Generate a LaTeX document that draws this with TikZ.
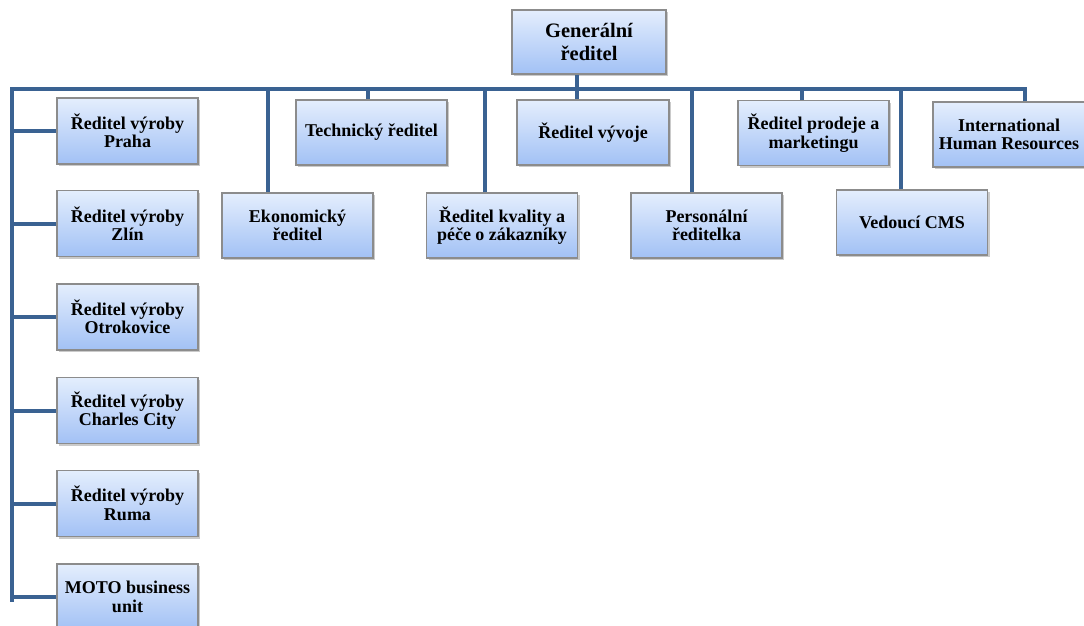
\documentclass[tikz,border=0pt]{standalone}
\usepackage{fontspec}
\setmainfont{Liberation Serif}
\usetikzlibrary{shadows}
\definecolor{conncol}{RGB}{58,98,146}
\definecolor{boxtop}{RGB}{228,238,253}
\definecolor{boxbot}{RGB}{162,193,245}
\definecolor{boxline}{RGB}{140,140,140}
\tikzset{
  orgbox/.style={draw=boxline, line width=1.2pt, top color=boxtop, bottom color=boxbot,
    minimum width=151pt, minimum height=65pt, align=center, inner sep=2pt,
    font=\fontsize{18pt}{18.5pt}\selectfont\bfseries,
    drop shadow={shadow xshift=2pt, shadow yshift=-2pt, opacity=0.35, fill=black!60}},
  leftbox/.style={orgbox, minimum width=141pt, minimum height=66pt},
  conn/.style={draw=conncol, line width=4pt},
}
\begin{document}
\begin{tikzpicture}[x=1pt,y=-1pt]
\useasboundingbox (0,0) rectangle (1084,626);
% nodes
\node[orgbox, minimum width=154pt, minimum height=64pt, font=\fontsize{20.5pt}{23pt}\selectfont\bfseries] (gen) at (589,42) {Generální\\ředitel};
\node[leftbox] (praha) at (127.5,131) {Ředitel výroby\\Praha};
\node[leftbox] (zlin) at (127.5,223.5) {Ředitel výroby\\Zlín};
\node[leftbox] (otro) at (127.5,317) {Ředitel výroby\\Otrokovice};
\node[leftbox] (charles) at (127.5,410.5) {Ředitel výroby\\Charles City};
\node[leftbox] (ruma) at (127.5,503.5) {Ředitel výroby\\Ruma};
\node[leftbox] (moto) at (127.5,597) {MOTO business\\unit};
\node[orgbox] (eko) at (297.5,225.5) {Ekonomický\\ředitel};
\node[orgbox] (tech) at (371.5,132.5) {Technický ředitel};
\node[orgbox] (kval) at (502,225.5) {Ředitel kvality a\\péče o zákazníky};
\node[orgbox, minimum width=152pt] (vyvoj) at (593,132.5) {Ředitel vývoje};
\node[orgbox] (pers) at (706.5,225.5) {Personální\\ředitelka};
\node[orgbox] (prodej) at (813.5,133) {Ředitel prodeje a\\marketingu};
\node[orgbox] (cms) at (912,222.5) {Vedoucí CMS};
\node[orgbox, minimum width=152pt] (ihr) at (1009,134.5) {International\\Human Resources};
% bus coordinates
\coordinate (busL) at (12,89);
\coordinate (busR) at (1025,89);
\coordinate (busB) at (12,600);
% connectors
\draw[conn] ([xshift=-12pt]gen.south) -- ([xshift=-12pt]gen.south |- busL);
\draw[conn, line cap=rect] (busB) -- (busL) -- (busR);
\draw[conn] ([xshift=16pt]ihr.north) -- ([xshift=16pt]ihr.north |- busR);
\foreach \n in {praha,zlin,otro,charles,ruma,moto}{
  \draw[conn] (\n.west) -- (\n.west -| busL);
}
\draw[conn] ([xshift=-29.5pt]eko.north) -- ([xshift=-29.5pt]eko.north |- busL);
\draw[conn] ([xshift=-3.5pt]tech.north) -- ([xshift=-3.5pt]tech.north |- busL);
\draw[conn] ([xshift=-17pt]kval.north) -- ([xshift=-17pt]kval.north |- busL);
\draw[conn] ([xshift=-16pt]vyvoj.north) -- ([xshift=-16pt]vyvoj.north |- busL);
\draw[conn] ([xshift=-14.5pt]pers.north) -- ([xshift=-14.5pt]pers.north |- busL);
\draw[conn] ([xshift=-11.5pt]prodej.north) -- ([xshift=-11.5pt]prodej.north |- busL);
\draw[conn] ([xshift=-11pt]cms.north) -- ([xshift=-11pt]cms.north |- busL);
\end{tikzpicture}
\end{document}
